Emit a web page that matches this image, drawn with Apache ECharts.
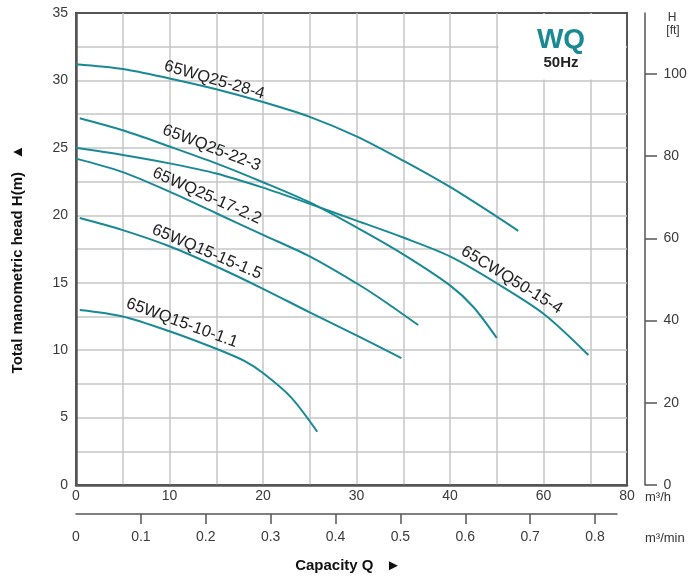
<!DOCTYPE html>
<html><head><meta charset="utf-8">
<script src="https://cdn.jsdelivr.net/npm/echarts@6/dist/echarts.min.js"></script>
<style>html,body{margin:0;padding:0;background:#fff}#c{width:689px;height:580px}</style>
</head><body><div id="c"></div>
<script>
// ---------- data ----------
const curveNames = ['65WQ25-28-4','65WQ25-22-3','65WQ25-17-2.2','65WQ15-15-1.5','65WQ15-10-1.1','65CWQ50-15-4'];
const q1 = [0,5,10,15,20,25,30,35,40,45,47.3];
const h1 = [31.2,30.85,30.15,29.35,28.4,27.3,25.85,24.05,22.1,19.9,18.85];
const q2 = [0.4,5,10,15,20,25,30,35,40,42.5,45];
const h2 = [27.2,26.3,25.1,23.85,22.45,20.95,19.1,17.1,14.8,13.2,10.9];
const q3 = [0,5,10,15,20,25,30,32.5,36.6];
const h3 = [24.2,23.2,21.75,20.15,18.55,16.95,14.96,13.85,11.86];
const q4 = [0.4,5,10,15,20,25,30,34.8];
const h4 = [19.8,18.9,17.7,16.2,14.55,12.8,11.1,9.4];
const q5 = [0.4,5,10,15,18,20,23,25.8];
const h5 = [12.98,12.5,11.4,10.1,9.2,8.3,6.5,3.95];
const q6 = [0,5,10,15,20,25,30,35,40,45,50,54.8];
const h6 = [25.0,24.47,23.85,23.1,22.05,20.85,19.6,18.35,16.95,14.96,12.7,9.64];

// tick labels
const xTickPos = [0,10,20,30,40,50,58.93];
const xTickLabels = ['0','10','20','30','40','60','80'];
const yTickLabels = [0,5,10,15,20,25,30,35];
const ftTicks = [0,20,40,60,80,100];
const minTicks = [0,0.1,0.2,0.3,0.4,0.5,0.6,0.7,0.8];

// label anchors [Q, H, rotation deg]
const labelQ = [14.8,14.5,14.0,14.0,11.34,46.6];
const labelH = [30.03,24.99,21.43,17.28,12.01,15.2];
const labelRot = [16,21,24,23,20,31.5];

// ---------- chart ----------
const TEAL = '#198a94';
const FONT = '"Liberation Sans", Arial, sans-serif';
const chart = echarts.init(document.getElementById('c'), null, {renderer:'canvas'});
const qs = [q1,q2,q3,q4,q5,q6], hs = [h1,h2,h3,h4,h5,h6];
const series = qs.map((q,i)=>({
  name: curveNames[i], type:'line', xAxisIndex:0, yAxisIndex:0,
  data: q.map((v,j)=>[v, hs[i][j]]),
  showSymbol:false, smooth:0.3, silent:true,
  lineStyle:{color:TEAL, width:2}, z:5
}));

const option = {
  animation:false,
  backgroundColor:'#fff',
  grid:[
    {left:76, top:13, right:62, bottom:95, show:true, borderColor:'#555', borderWidth:2},
    {left:645, width:2, top:13, bottom:95},
    {left:76, width:541, top:505, height:9}
  ],
  xAxis:[
    {type:'value', gridIndex:0, min:0, max:58.93, interval:5,
     axisLine:{show:true, lineStyle:{color:'#555', width:2.5}},
     axisTick:{show:false},
     axisLabel:{customValues:xTickPos, margin:4, fontSize:14, color:'#3a3a3a', fontFamily:FONT,
       formatter:(v)=>{const k=xTickPos.findIndex(p=>Math.abs(p-v)<0.01);return k>=0?xTickLabels[k]:'';}},
     splitLine:{show:true, showMinLine:false, showMaxLine:false, lineStyle:{color:'#c6c6c6', width:1.5}}},
    {type:'value', gridIndex:1, show:false, min:0, max:1},
    {type:'value', gridIndex:2, position:'bottom', min:0, max:0.8339,
     axisLine:{show:true, lineStyle:{color:'#555', width:1.5}},
     axisTick:{show:true, customValues:minTicks.slice(1), length:10, inside:false, lineStyle:{color:'#555', width:1.5}},
     axisLabel:{customValues:minTicks, margin:16, fontSize:14, color:'#3a3a3a', fontFamily:FONT},
     splitLine:{show:false}}
  ],
  yAxis:[
    {type:'value', gridIndex:0, min:0, max:35, interval:2.5,
     axisLine:{show:true, lineStyle:{color:'#555', width:2.5}},
     axisTick:{show:false},
     axisLabel:{customValues:yTickLabels, margin:8, fontSize:14, color:'#3a3a3a', fontFamily:FONT},
     splitLine:{show:true, showMinLine:false, showMaxLine:false, lineStyle:{color:'#c6c6c6', width:1.5}}},
    {type:'value', gridIndex:1, position:'right', min:0, max:114.83,
     axisLine:{show:true, lineStyle:{color:'#555', width:1.5}},
     axisTick:{show:true, customValues:ftTicks, length:12, inside:false, lineStyle:{color:'#555', width:1.5}},
     axisLabel:{customValues:ftTicks, margin:18, fontSize:14, color:'#3a3a3a', fontFamily:FONT},
     splitLine:{show:false}},
    {type:'value', gridIndex:2, show:false, min:0, max:1}
  ],
  series: series
};
chart.setOption(option);

const g = [
  {type:'rect', shape:{x:498.5, y:14, width:127.5, height:65.5}, style:{fill:'#fff'}, z:1, silent:true},
  {type:'text', x:561, y:40, z:10, style:{text:'WQ', font:'bold 28px '+FONT, fill:TEAL, align:'center', verticalAlign:'middle'}},
  {type:'text', x:561, y:63, z:10, style:{text:'50Hz', font:'bold 15px '+FONT, fill:'#222', align:'center', verticalAlign:'middle'}},
  {type:'text', x:672, y:18, z:10, style:{text:'H', font:'12px '+FONT, fill:'#333', align:'center', verticalAlign:'middle'}},
  {type:'text', x:673, y:31, z:10, style:{text:'[ft]', font:'12px '+FONT, fill:'#333', align:'center', verticalAlign:'middle'}},
  {type:'text', x:645, y:497, z:10, style:{text:'m³/h', font:'13px '+FONT, fill:'#333', align:'left', verticalAlign:'middle'}},
  {type:'text', x:645, y:538, z:10, style:{text:'m³/min', font:'13px '+FONT, fill:'#333', align:'left', verticalAlign:'middle'}},
  {type:'text', x:348, y:566, z:10, style:{text:'Capacity Q   ►', font:'bold 15px '+FONT, fill:'#111', align:'center', verticalAlign:'middle'}},
  {type:'text', x:18, y:259, rotation:Math.PI/2, z:10, style:{text:'Total manometric head H(m)   ▲', font:'bold 15px '+FONT, fill:'#111', align:'center', verticalAlign:'middle'}}
];
curveNames.forEach((nm,i)=>{
  const p = chart.convertToPixel({gridIndex:0}, [labelQ[i], labelH[i]]);
  g.push({type:'text', x:p[0], y:p[1], rotation:-labelRot[i]*Math.PI/180, z:10,
    style:{text:nm, font:'16.5px '+FONT, fill:'#222', align:'center', verticalAlign:'middle'}});
});
chart.setOption({graphic:{elements:g}});
</script>
</body></html>
